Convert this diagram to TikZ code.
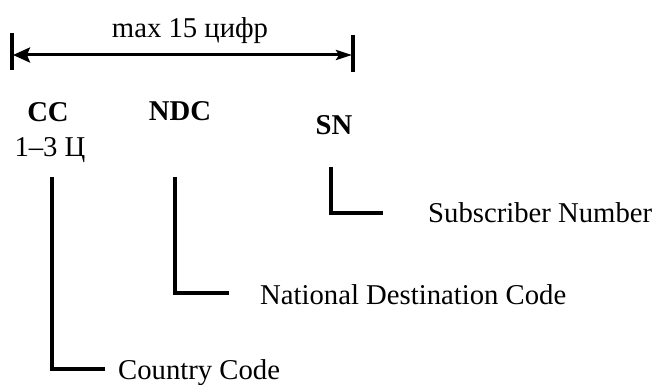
\documentclass[tikz,border=0pt]{standalone}
\usepackage{fontspec}
\setmainfont{Liberation Serif}
\usetikzlibrary{arrows.meta}
\begin{document}
\begin{tikzpicture}[x=1pt,y=-1pt,
  lbl/.style={inner sep=0pt,font=\fontsize{28.7}{34}\selectfont},
  bold/.style={lbl,font=\fontsize{28.7}{34}\selectfont\bfseries},
  bar/.style={line width=3.5pt},
  leader/.style={line width=3.8pt,line join=miter}]
\useasboundingbox (0,0) rectangle (657,385);

% overall length marker
\coordinate (lt) at (12,33);
\coordinate (lb) at (12,70);
\coordinate (rt) at (353,35);
\coordinate (rb) at (353,72);
\coordinate (la) at (13,55);
\coordinate (ra) at (352,55);
\draw[bar] (lt) -- (lb);
\draw[bar] (rt) -- (rb);
\draw[line width=3pt,{Stealth[length=17pt,width=15pt,inset=3pt]}-{Stealth[length=16pt,width=10pt,inset=3pt]}] (la) -- (ra);
\node[lbl,anchor=base] (max) at (190,38) {max 15 цифр};

% field names
\node[bold,anchor=base] (cc) at (48,122) {CC};
\node[lbl,anchor=base] (ccn) at (50,157) {1–3 Ц};
\node[bold,anchor=base] (ndc) at (180,121) {NDC};
\node[bold,anchor=base] (sn) at (334,135) {SN};

% descriptions
\node[lbl,anchor=base west] (ccd) at (118,379) {Country Code};
\node[lbl,anchor=base west] (ndcd) at (260,305) {National Destination Code};
\node[lbl,anchor=base west] (snd) at (428,223) {Subscriber Number};

% leaders
\coordinate (cct) at (52,177);
\coordinate (cce) at (105,369);
\coordinate (ndct) at (175,177);
\coordinate (ndce) at (229,293);
\coordinate (snt) at (331,167);
\coordinate (sne) at (383,213);
\draw[leader] (cct) |- (cce);
\draw[leader] (ndct) |- (ndce);
\draw[leader] (snt) |- (sne);
\end{tikzpicture}
\end{document}
